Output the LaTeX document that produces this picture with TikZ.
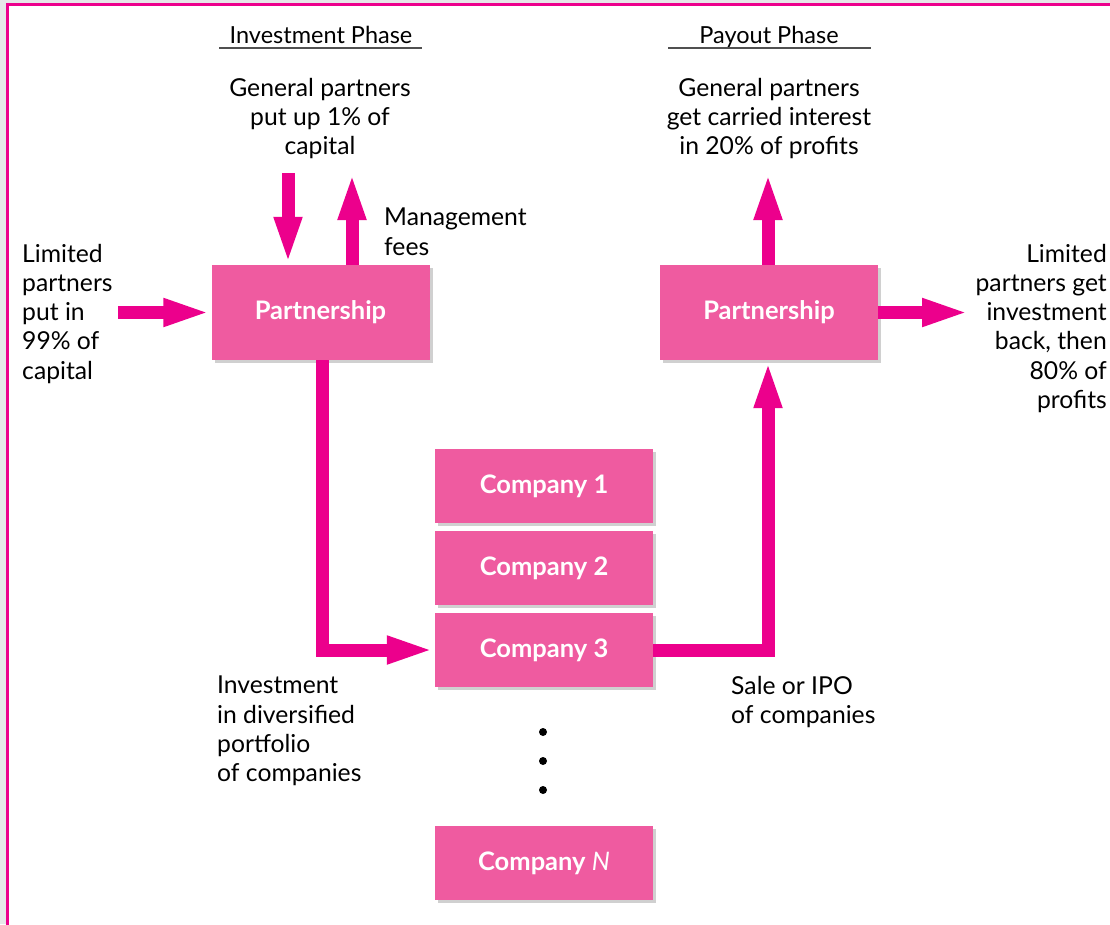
\documentclass[tikz,border=0pt]{standalone}
\usepackage{fontspec}
\setmainfont{Lato}
\usetikzlibrary{arrows.meta,shadows}
\definecolor{mag}{HTML}{EC008C}
\definecolor{boxpink}{HTML}{EF5BA0}
\definecolor{bggray}{HTML}{E6E7E8}
\definecolor{rulegray}{HTML}{505050}
\begin{document}
\begin{tikzpicture}[x=1pt,y=-1pt,
  box/.style={fill=boxpink, minimum width=218pt, minimum height=95pt, inner sep=0pt,
    text=white, font=\fontsize{25.5}{30}\selectfont\bfseries,
    drop shadow={shadow xshift=3pt,shadow yshift=-3pt,opacity=0.3,fill=black!60}},
  cbox/.style={box, minimum height=74pt},
  flow/.style={draw=mag, line width=13pt, -{Triangle[length=48pt,width=25pt]}, line join=miter},
  lbl/.style={inner sep=0pt, font=\fontsize{24.7}{29.2}\selectfont, text=black},
  ttl/.style={inner sep=0pt, font=\fontsize{23.5}{28}\selectfont, text=black},
  uline/.style={draw=rulegray, line width=2pt},
  dot/.style={circle, fill=black, inner sep=0pt, minimum size=8pt},
]
\useasboundingbox (0,0) rectangle (1110,924);
\fill[bggray] (0,0) rectangle (1110,924);
\fill[white] (6,3) rectangle (1110,924);
\draw[mag, line width=3pt] (7.5,930) -- (7.5,4.5) -- (1115,4.5);

% boxes
\node[box] (lp) at (320.5,312.5) {Partnership};
\node[box] (rp) at (769,312.5) {Partnership};
\node[cbox] (c1) at (544,486) {Company 1};
\node[cbox] (c2) at (544,568) {Company 2};
\node[cbox] (c3) at (544,650) {Company 3};
\node[cbox] (cn) at (544,863) {Company {\normalfont\itshape N}};

% dots
\node[dot] (d1) at (543,732) {};
\node[dot] (d2) at (543,761) {};
\node[dot] (d3) at (543,790) {};

% titles
\node[ttl, anchor=north] (t1) at (321,26) {Investment Phase};
\node[ttl, anchor=north] (t2) at (769,26) {Payout Phase};
\coordinate (u1a) at (219,48); \coordinate (u1b) at (422,48);
\coordinate (u2a) at (668,48); \coordinate (u2b) at (871,48);
\draw[uline] (u1a) -- (u1b);
\draw[uline] (u2a) -- (u2b);

% labels
\node[lbl, anchor=north, align=center] (gpin) at (320,78) {General partners\\put up 1\% of\\capital};
\node[lbl, anchor=north, align=center] (gpout) at (769,78) {General partners\\get carried interest\\in 20\% of profits};
\node[lbl, anchor=north west, align=left] (mgmt) at (384,208) {Management\\fees};
\node[lbl, anchor=north west, align=left] (lpin) at (22,244) {Limited\\partners\\put in\\99\% of\\capital};
\node[lbl, anchor=north east, align=right] (lpout) at (1107,244) {Limited\\partners get\\investment\\back, then\\80\% of\\profits};
\node[lbl, anchor=north west, align=left] (invt) at (217,676) {Investment\\in diversified\\portfolio\\of companies};
\node[lbl, anchor=north west, align=left] (sale) at (731,676) {Sale or IPO\\of companies};

% arrow coordinates
\coordinate (gpdown) at (288,173);
\coordinate (mfup) at (352,172);
\coordinate (lpstart) at (118,312.5);
\coordinate (invx) at (322,0);
\coordinate (salex) at (768,0);
\coordinate (gpup) at (768,172);
\coordinate (lpend) at (970,312.5);

\draw[flow] (gpdown) -- (gpdown |- lp.north);
\draw[flow] (mfup |- lp.north) -- (mfup);
\draw[flow] (lpstart) -- (lp.west);
\draw[flow] (invx |- lp.south) -- (invx |- c3.west) -- (c3.west);
\draw[flow] (c3.east) -- (c3.east -| salex) -- (salex |- rp.south);
\draw[flow] (gpup |- rp.north) -- (gpup);
\draw[flow] (rp.east) -- (lpend);
\end{tikzpicture}
\end{document}
